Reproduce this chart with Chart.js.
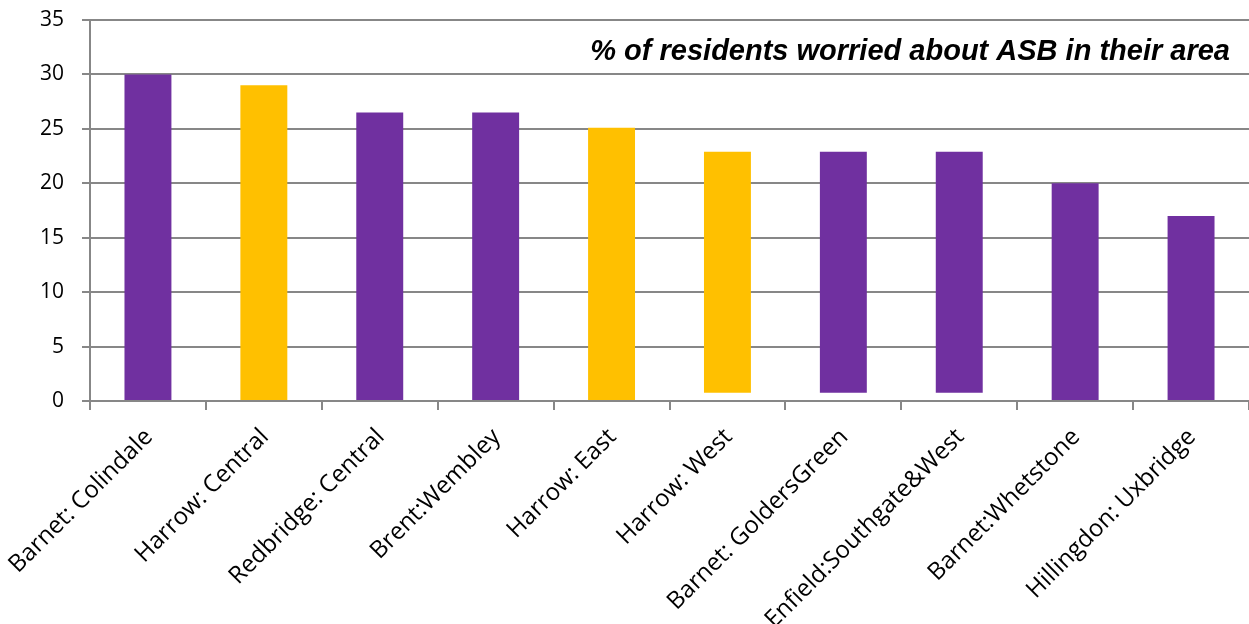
<!DOCTYPE html>
<html>
<head>
<meta charset="utf-8">
<script src="https://cdn.jsdelivr.net/npm/chart.js@4.4.0/dist/chart.umd.min.js"></script>
<style>
  html, body { margin: 0; padding: 0; background: #fff; }
  #wrap { width: 1249px; height: 624px; }
</style>
</head>
<body>
<div id="wrap"><canvas id="asbChart"></canvas></div>
<script>
const areas = ["Barnet: Colindale", "Harrow: Central", "Redbridge: Central", "Brent:Wembley", "Harrow: East",
  "Harrow: West", "Barnet: GoldersGreen", "Enfield:Southgate&West", "Barnet:Whetstone", "Hillingdon: Uxbridge"]
const barTops = [30, 29, 26.5, 26.5, 25.1, 22.9, 22.9, 22.9, 20, 17]
const barBases = [0, 0, 0, 0, 0, 0.75, 0.75, 0.75, 0, 0]
const boroughGroup = ["other", "harrow", "other", "other", "harrow", "harrow", "other", "other", "other", "other"]
const yTicks = [0, 5, 10, 15, 20, 25, 30, 35]
const chartTitle = "% of residents worried about ASB in their area"

const purple = "#7030A0"
const gold = "#FFC000"
const gridGrey = "#878787"
const labelFont = "'Open Sans', Lato, sans-serif"

const titleInside = {
  id: "titleInside",
  afterDraw(chart) {
    const c = chart.ctx
    c.save()
    c.font = "italic bold 29px 'Liberation Sans', Arial, sans-serif"
    c.fillStyle = "#000"
    c.textAlign = "right"
    c.textBaseline = "middle"
    c.fillText(chartTitle, chart.chartArea.right - 19, 52)
    c.restore()
  }
}

const ctx = document.getElementById("asbChart").getContext("2d")
new Chart(ctx, {
  type: "bar",
  data: {
    labels: areas,
    datasets: [{
      label: chartTitle,
      data: barTops.map((v, i) => [barBases[i], v]),
      backgroundColor: boroughGroup.map(g => g === "harrow" ? gold : purple),
      borderWidth: 0,
      barPercentage: 0.405,
      categoryPercentage: 1
    }]
  },
  options: {
    responsive: true,
    maintainAspectRatio: false,
    animation: false,
    layout: { padding: 0 },
    plugins: {
      legend: { display: false },
      tooltip: { enabled: false }
    },
    scales: {
      y: {
        min: 0,
        max: 35,
        afterBuildTicks: axis => { axis.ticks = yTicks.map(v => ({ value: v })) },
        afterFit: axis => {
          axis.width = 90
          axis.paddingTop = 20
          axis.paddingBottom = 0
        },
        border: { color: gridGrey, width: 2 },
        grid: { color: gridGrey, lineWidth: 2, tickLength: 8, tickColor: gridGrey },
        ticks: { color: "#000", font: { family: labelFont, size: 21 }, padding: 18 }
      },
      x: {
        afterFit: axis => {
          axis.height = 223
          axis.paddingLeft = 0
          axis.paddingRight = 0
        },
        border: { color: gridGrey, width: 2 },
        grid: { drawOnChartArea: false, offset: true, tickLength: 9, color: gridGrey, lineWidth: 2 },
        ticks: {
          color: "#000",
          maxRotation: 45,
          minRotation: 45,
          autoSkip: false,
          padding: 13,
          labelOffset: 1,
          font: { family: labelFont, size: 24 }
        }
      }
    }
  },
  plugins: [titleInside]
})
</script>
</body>
</html>
